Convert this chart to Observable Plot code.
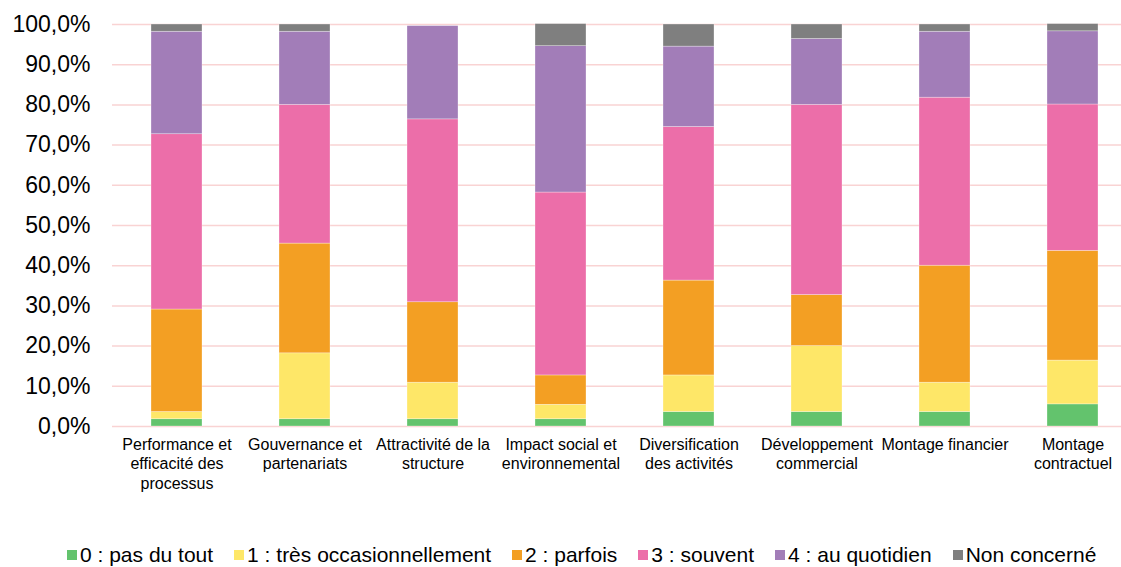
<!DOCTYPE html>
<html>
<head>
<meta charset="utf-8">
<script src="https://cdn.jsdelivr.net/npm/d3@7"></script>
<script src="https://cdn.jsdelivr.net/npm/@observablehq/plot@0.6"></script>
<style>
  html, body { margin: 0; padding: 0; background: #fff; }
  body { width: 1121px; height: 567px; overflow: hidden; font-family: "Liberation Sans", Arial, sans-serif; }
  #legend { display: flex; align-items: center; margin-top: 43px; padding-left: 67px; height: 24px; font-size: 21px; color: #000; white-space: nowrap; }
  #legend .item { display: flex; align-items: center; margin-right: 21px; }
  #legend .sw { width: 10px; height: 10px; margin-right: 3px; }
</style>
</head>
<body>
<div id="chart"></div>
<div id="legend"></div>
<script>
const categories = [
  "Performance et efficacité des processus",
  "Gouvernance et partenariats",
  "Attractivité de la structure",
  "Impact social et environnemental",
  "Diversification des activités",
  "Développement commercial",
  "Montage financier",
  "Montage contractuel"
];
const tickLabels = [
  "Performance et\nefficacité des\nprocessus",
  "Gouvernance et\npartenariats",
  "Attractivité de la\nstructure",
  "Impact social et\nenvironnemental",
  "Diversification\ndes activités",
  "Développement\ncommercial",
  "Montage financier",
  "Montage\ncontractuel"
];
const seriesNames = [
  "0 : pas du tout",
  "1 : très occasionnellement",
  "2 : parfois",
  "3 : souvent",
  "4 : au quotidien",
  "Non concerné"
];
const seriesColors = ["#63c36d", "#fee768", "#f39f23", "#ec6ea9", "#a27db8", "#7f7f7f"];

const pasDuTout        = [1.8, 1.8, 1.8, 1.8, 3.6, 3.6, 3.6, 5.5];
const tresOccasion     = [1.8, 16.4, 9.1, 3.6, 9.1, 16.4, 7.3, 10.9];
const parfois          = [25.5, 27.3, 20.0, 7.3, 23.6, 12.7, 29.1, 27.3];
const souvent          = [43.6, 34.5, 45.5, 45.5, 38.2, 47.3, 41.8, 36.4];
const auQuotidien      = [25.5, 18.2, 23.2, 36.4, 20.0, 16.4, 16.4, 18.2];
const nonConcerne      = [1.8, 1.8, 0, 5.5, 5.5, 3.6, 1.8, 1.8];

const yTicks = [0, 10, 20, 30, 40, 50, 60, 70, 80, 90, 100];

const seriesValues = [pasDuTout, tresOccasion, parfois, souvent, auQuotidien, nonConcerne];
const data = categories.flatMap((c, i) =>
  seriesNames.map((s, j) => ({category: c, series: s, value: seriesValues[j][i]}))
);
const labelMap = new Map(categories.map((c, i) => [c, tickLabels[i]]));
const fmt = d => d.toFixed(1).replace(".", ",") + "%";

const chart = Plot.plot({
  width: 1121,
  height: 500,
  marginLeft: 112,
  marginRight: 0,
  marginTop: 24,
  marginBottom: 74,
  style: {fontFamily: "'Liberation Sans', Arial, sans-serif", color: "#000", background: "#fff"},
  x: {type: "band", domain: categories, range: [112, 1137], paddingInner: 0.6, paddingOuter: 0.3, label: null},
  y: {domain: [0, 100], label: null},
  color: {domain: seriesNames, range: seriesColors},
  marks: [
    Plot.gridY(yTicks, {stroke: "#f9d3d3", strokeOpacity: 1, strokeWidth: 1.5}),
    Plot.barY(data, Plot.stackY({order: seriesNames}, {
      x: "category", y: "value", z: "series", fill: "series",
      stroke: "#ffffff", strokeWidth: 0.6, strokeOpacity: 0.5
    })),
    Plot.axisY(yTicks, {tickSize: 0, tickPadding: 22, fontSize: 23, tickFormat: fmt, label: null}),
    Plot.axisX({tickSize: 0, tickPadding: 10, fontSize: 16, lineHeight: 1.2, tickFormat: d => labelMap.get(d), label: null})
  ]
});
document.getElementById("chart").appendChild(chart);

const legend = document.getElementById("legend");
seriesNames.forEach((s, i) => {
  const item = document.createElement("div");
  item.className = "item";
  const sw = document.createElement("span");
  sw.className = "sw";
  sw.style.background = seriesColors[i];
  const t = document.createElement("span");
  t.textContent = s;
  item.appendChild(sw);
  item.appendChild(t);
  legend.appendChild(item);
});
</script>
</body>
</html>
